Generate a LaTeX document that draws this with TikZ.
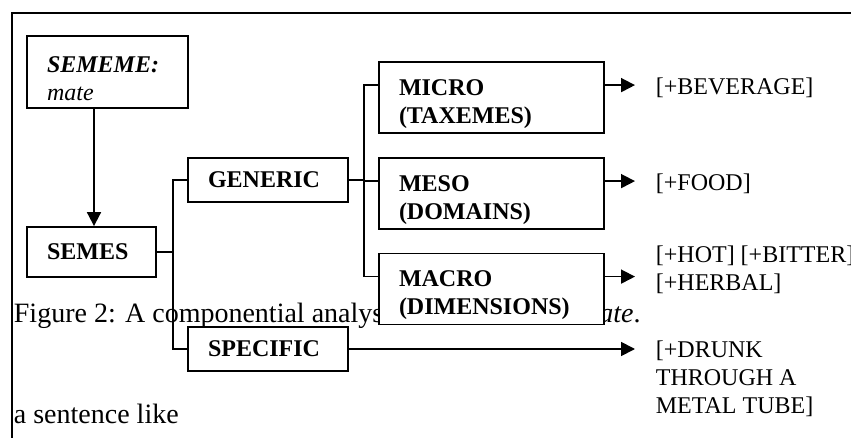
\documentclass[tikz,border=0pt]{standalone}
\usepackage{fontspec}
\setmainfont{Liberation Serif}
\usetikzlibrary{arrows.meta}
\begin{document}
\begin{tikzpicture}[x=0.5pt, y=-0.5pt, line width=0.9pt,
  font=\fontsize{12}{14}\selectfont,
  box/.style={draw, fill=white, align=left, inner xsep=10pt, inner ysep=0pt,
    font=\fontsize{12}{14}\selectfont\bfseries},
  twoline/.style={execute at begin node={\rule{0pt}{14.5pt}}},
  arr/.style={-{Triangle[length=7pt,width=7pt]}},
  feat/.style={anchor=base west, align=left, inner sep=0pt},
  body/.style={anchor=base west, inner sep=0pt, font=\fontsize{14}{16}\selectfont}]
  \useasboundingbox (0,0) rectangle (851,438);
  \draw (851,13) -- (12,13) -- (12,438);
  % running text behind the chart
  \node[body] (cap) at (13,322) {Figure 2: A componential analysis of the sememe \textit{mate}.};
  \node[body] (sent) at (13,423) {a sentence like};
  % boxes
  \node[box, twoline, text width=60.5pt, minimum height=36pt, font=\fontsize{12}{14}\selectfont\bfseries\itshape] (sememe) at (107.5,72) {SEMEME:\\\mdseries mate};
  \node[box, text width=44.5pt, minimum height=25pt] (semes) at (91.5,252) {SEMES};
  \node[box, text width=60pt, minimum height=22pt] (generic) at (268,180) {GENERIC};
  \node[box, text width=60pt, minimum height=22pt] (specific) at (268,349) {SPECIFIC};
  \node[box, twoline, text width=92.5pt, minimum height=35.5pt] (micro) at (491.5,97.5) {MICRO\\(TAXEMES)};
  \node[box, twoline, text width=92.5pt, minimum height=35.5pt] (meso) at (491.5,193.5) {MESO\\(DOMAINS)};
  \node[box, twoline, text width=92.5pt, minimum height=35.5pt] (macro) at (491.5,289) {MACRO\\(DIMENSIONS)};
  % features
  \node[feat] (bev) at (655,95) {[+BEVERAGE]};
  \node[feat] (food) at (655,191) {[+FOOD]};
  \node[feat] (hot) at (655,291) {[+HOT] [+BITTER]\\{}[+HERBAL]};
  \node[feat] (drunk) at (655,413) {[+DRUNK\\THROUGH A\\METAL TUBE]};
  \coordinate (tipx) at (635,0);
  \coordinate (microW) at ([yshift=-12pt]micro.north west);
  \coordinate (mesoW) at ([yshift=-12pt]meso.north west);
  \coordinate (macroW) at ([yshift=-12pt]macro.north west);
  \coordinate (microE) at ([yshift=-12pt]micro.north east);
  \coordinate (mesoE) at ([yshift=-12pt]meso.north east);
  \coordinate (macroE) at ([yshift=-12pt]macro.north east);
  % connectors
  \draw[arr] ([xshift=-6.75pt]sememe.south) -- ([xshift=1.25pt]semes.north);
  \draw (semes.east) -- ++(8pt,0) |- (generic.west);
  \draw (semes.east) -- ++(8pt,0) |- (specific.west);
  \draw (generic.east) -- ++(7.5pt,0) |- (microW);
  \draw (generic.east) -- ++(7.5pt,0) |- (mesoW);
  \draw (generic.east) -- ++(7.5pt,0) |- (macroW);
  \draw[arr] (microE) -- (microE -| tipx);
  \draw[arr] (mesoE) -- (mesoE -| tipx);
  \draw[arr] (macroE) -- (macroE -| tipx);
  \draw[arr] (specific.east) -- (specific.east -| tipx);
\end{tikzpicture}
\end{document}
